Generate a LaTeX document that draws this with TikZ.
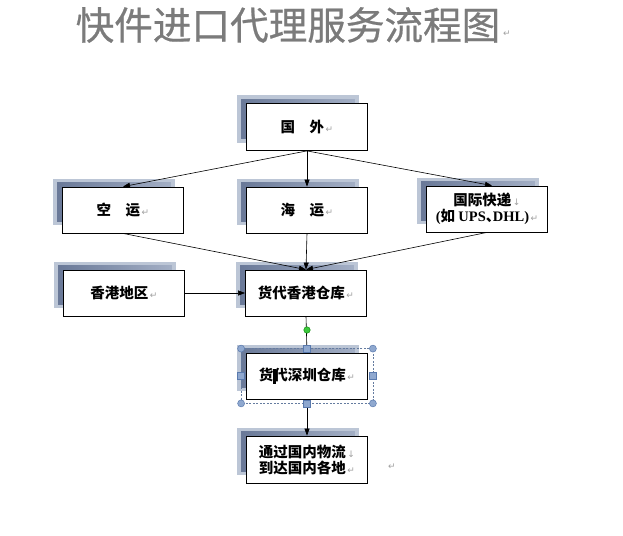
\documentclass[tikz,border=0pt]{standalone}
\usepackage{fontspec}
\setmainfont{Liberation Serif}
\newfontfamily\cjk{Noto Sans CJK SC}
\newfontfamily\cjkt[FakeBold=0.6]{Noto Sans CJK SC}
\newfontfamily\symf{DejaVu Sans}
\newfontfamily\lat{Liberation Serif}
\usetikzlibrary{arrows.meta,backgrounds,calc}
\definecolor{shlight}{HTML}{BCC6D6}
\definecolor{shdark}{HTML}{6A7998}
\definecolor{shmid}{HTML}{A3AFC5}
\definecolor{markgray}{HTML}{A0A0A0}
\definecolor{titlegray}{HTML}{7B7B7B}
\definecolor{selblue}{HTML}{8FA8CF}
\definecolor{selborder}{HTML}{5A7AAE}
\definecolor{rotgreen}{HTML}{3CC83C}
\newcommand{\rmark}{{\symf\mdseries\fontsize{9}{9}\selectfont\color{markgray}\,↵}}
\newcommand{\lmark}{{\symf\mdseries\fontsize{9}{9}\selectfont\color{markgray}\,↓}}
\begin{document}
\begin{tikzpicture}[x=1pt,y=-1pt,
  box/.style={draw=black, line width=0.8pt, fill=white, minimum width=121pt,
    minimum height=47pt, inner sep=0pt, align=center,
    font=\cjk\bfseries\fontsize{14.5}{16}\selectfont},
  arr/.style={-{Triangle[length=7pt,width=5pt]}, line width=0.6pt},
  handlec/.style={circle, fill=selblue, draw=selborder, line width=0.5pt,
    minimum size=7pt, inner sep=0pt},
  handles/.style={rectangle, fill=selblue, draw=selborder, line width=0.5pt,
    minimum size=7pt, inner sep=0pt},
  markn/.style={inner sep=0pt, font=\symf\fontsize{9}{9}\selectfont, text=markgray}]
\useasboundingbox (0,0) rectangle (623,535);

% title
\node[inner sep=0pt, text=titlegray, font=\cjkt\fontsize{38.6}{40}\selectfont]
  (title) at (288,25) {快件进口代理服务流程图};
\node[markn] (tmark) at (507,34) {↵};

% boxes
\node[box] (gw) at (307,127) {国　外\rmark};
\node[box, minimum height=46pt] (ky) at (123,210) {空　运\rmark};
\node[box, minimum height=46pt] (hy) at (307,210) {海　运\rmark};
\node[box, minimum height=46pt] (gj) at (487,209)
  {国际快递\lmark\\{\lat\bfseries(}如 {\lat\bfseries UPS}\makebox[7pt][l]{、}{\lat\bfseries DHL)}\rmark};
\node[box, minimum height=46pt] (xg) at (124,293) {香港地区\rmark};
\node[box, minimum height=46pt] (hk) at (306,293) {货代香港仓库\rmark};
\node[box, minimum height=46pt] (sz) at (307,376)
  {货\makebox[0pt][l]{\rule[-3pt]{2.5pt}{15pt}}代深圳仓库\rmark};
\node[box] (tg) at (307,459.5) {通过国内物流\lmark\\到达国内各地\rmark};
\node[markn] (fmark) at (392,467) {↵};

% shadows
\begin{scope}[on background layer]
\foreach \n in {gw,ky,hy,gj,xg,hk,sz,tg}{
  \fill[shlight] ([shift={(-9,-8)}]\n.north west) rectangle ([shift={(-9,-8)}]\n.south east);
  \shade[left color=shdark, right color=shmid]
    ([shift={(-5,-4)}]\n.north west) rectangle ([shift={(-13,-12)}]\n.south east);
}
\end{scope}

% connectors
\draw[arr] (gw.south) -- (ky.north);
\draw[arr] (gw.south) -- (hy.north);
\draw[arr] (gw.south) -- ([xshift=5pt]gj.north);
\draw[arr] (ky.south) -- (hk.north);
\draw[arr] (hy.south) -- (hk.north);
\draw[arr] (gj.south) -- (hk.north);
\draw[arr] (xg.east) -- (hk.west);
\draw[arr] (hk.south) -- (sz.north);
\draw[arr] (sz.south) -- (tg.north);

% selection frame of sz
\coordinate (s1) at ([shift={(-5,-4)}]sz.north west);
\coordinate (s2) at ([shift={(5,4)}]sz.south east);
\coordinate (s3) at ([shift={(5,-4)}]sz.north east);
\coordinate (s4) at ([shift={(-5,4)}]sz.south west);
\draw[selborder!70!gray, line width=0.5pt, dash pattern=on 2pt off 1.5pt] (s1) rectangle (s2);
\node[handlec] (h1) at (s1) {};
\node[handlec] (h2) at (s2) {};
\node[handlec] (h3) at (s3) {};
\node[handlec] (h4) at (s4) {};
\node[handles] (m1) at ($(s1)!0.5!(s3)$) {};
\node[handles] (m2) at ($(s4)!0.5!(s2)$) {};
\node[handles] (m3) at ($(s1)!0.5!(s4)$) {};
\node[handles] (m4) at ($(s3)!0.5!(s2)$) {};
\node[circle, fill=rotgreen, draw=green!50!black, line width=0.4pt, minimum size=6.5pt,
  inner sep=0pt] (rot) at (307,330) {};
\end{tikzpicture}
\end{document}
